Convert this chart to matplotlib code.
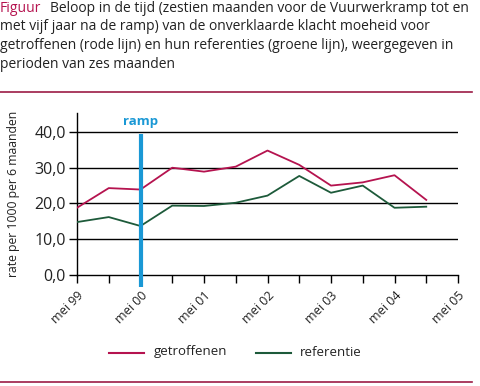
import matplotlib.pyplot as plt
from matplotlib.ticker import FixedLocator, FuncFormatter

# periods of six months, starting mei 99
getroffenen = [18.8, 24.3, 23.9, 30.0, 28.9, 30.3, 34.8, 30.8, 25.0, 25.9, 27.9, 21.0]
referentie = [14.8, 16.2, 13.7, 19.4, 19.3, 20.2, 22.2, 27.7, 23.0, 25.0, 18.8, 19.1]
tick_labels = ['mei 99', 'mei 00', 'mei 01', 'mei 02', 'mei 03', 'mei 04', 'mei 05']
yticks = [0, 10, 20, 30, 40]
ramp_pos = 2

RED = '#b5134f'
GREEN = '#1d5a3a'
BLUE = '#1a98d5'
TXT = '#222222'

plt.rcParams['font.family'] = ['Open Sans', 'DejaVu Sans']
plt.rcParams['font.size'] = 9

W, H = 480, 386
fig = plt.figure(figsize=(W / 100, H / 100), dpi=100)

def fy(px):
    return 1 - px / H

# title
fig.text(0.0, fy(8), 'Figuur', color=RED, fontsize=10, va='center', ha='left')
fig.text(50 / W, fy(8), 'Beloop in de tijd (zestien maanden voor de Vuurwerkramp tot en',
         color=TXT, fontsize=10, va='center', ha='left')
lines = ['met vijf jaar na de ramp) van de onverklaarde klacht moeheid voor',
         'getroffenen (rode lijn) en hun referenties (groene lijn), weergegeven in',
         'perioden van zes maanden']
for i, t in enumerate(lines):
    fig.text(0.0, fy(27 + i * 18.7), t, color=TXT, fontsize=10, va='center', ha='left')

# horizontal rules
fig.add_artist(plt.Line2D([0, 472 / W], [fy(92), fy(92)], color='#9c1b45', lw=1.2))
fig.add_artist(plt.Line2D([0, 472 / W], [fy(382), fy(382)], color='#9c1b45', lw=1.2))

ax = fig.add_axes([77 / W, fy(275), (458 - 77) / W, (275 - 113) / H])
x = list(range(len(getroffenen)))
for v in yticks[1:]:
    ax.axhline(v, color='black', lw=1.0, zorder=1)
ax.plot(x, getroffenen, color=RED, lw=1.3, zorder=3)
ax.plot(x, referentie, color=GREEN, lw=1.3, zorder=3)

ax.plot([ramp_pos, ramp_pos], [-3.3, 39.5], color=BLUE, lw=3, zorder=4, clip_on=False,
        solid_capstyle='butt')
ax.text(ramp_pos, 41.2, 'ramp', color=BLUE, fontsize=9.5, fontweight='bold',
        ha='center', va='bottom')

ax.set_xlim(0, 12)
ax.set_ylim(0, 45.3)
ax.set_yticks(yticks)
ax.yaxis.set_major_formatter(FuncFormatter(lambda v, p: f'{v:.1f}'.replace('.', ',')))
ax.xaxis.set_major_locator(FixedLocator(range(0, 13, 2)))
ax.xaxis.set_minor_locator(FixedLocator(range(1, 13, 2)))
ax.set_xticklabels(tick_labels, rotation=45, ha='right', rotation_mode='anchor',
                   fontsize=9, color=TXT)
ax.tick_params(axis='x', which='both', direction='out', length=6, width=1.0, pad=4)
ax.tick_params(axis='y', direction='out', length=6, width=1.0, labelsize=11.5, pad=2,
               labelcolor=TXT)
for s in ['top', 'right']:
    ax.spines[s].set_visible(False)
ax.spines['left'].set_linewidth(1.0)
ax.spines['bottom'].set_linewidth(1.0)
ax.set_ylabel('rate per 1000 per 6 maanden', fontsize=8.8, color=TXT)
ax.yaxis.set_label_coords(-57 / (458 - 77), 0.5)

# legend
fig.add_artist(plt.Line2D([109 / W, 144 / W], [fy(353), fy(353)], color=RED, lw=1.5))
fig.text(154 / W, fy(352), 'getroffenen', color=TXT, fontsize=9.5, va='center')
fig.add_artist(plt.Line2D([256 / W, 291 / W], [fy(353), fy(353)], color=GREEN, lw=1.5))
fig.text(300 / W, fy(352), 'referentie', color=TXT, fontsize=9.5, va='center')

fig.savefig('out.png', dpi=100)
